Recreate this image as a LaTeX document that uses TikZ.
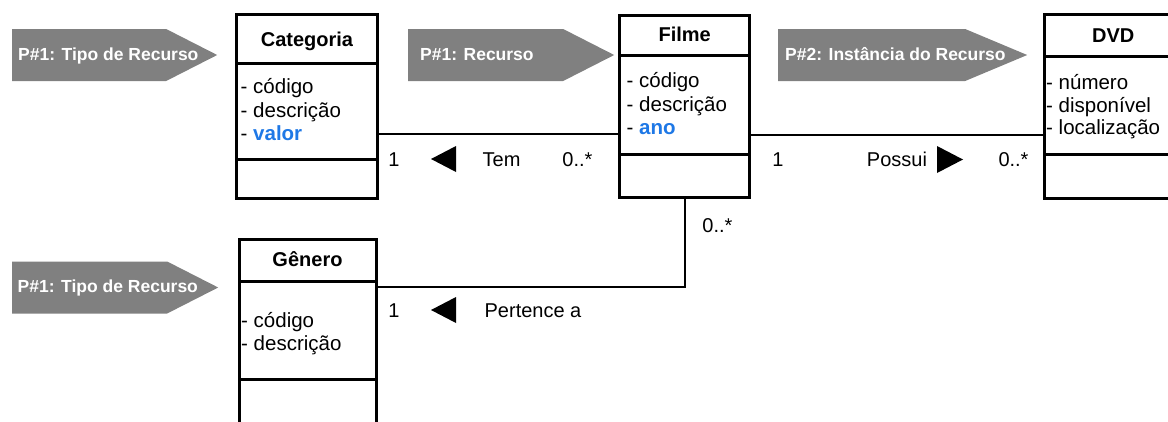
\documentclass[tikz,border=0pt]{standalone}
\usepackage{fontspec}
\setmainfont{Liberation Sans}
\usetikzlibrary{shapes.symbols}

\definecolor{attrblue}{RGB}{30,120,230}
\definecolor{taggray}{RGB}{128,128,128}

\tikzset{
  classbox/.style={draw, line width=3pt, inner sep=0pt},
  divider/.style={line width=3pt},
  assoc/.style={line width=2pt},
  tag/.style={shape=signal, signal to=east, fill=taggray, inner sep=0pt,
    minimum height=52pt, anchor=west},
  tagtext/.style={anchor=base west, inner sep=0pt, text=white,
    font=\fontsize{17.5}{20}\selectfont\bfseries},
  title/.style={anchor=base, inner sep=0pt, font=\fontsize{20}{24}\selectfont\bfseries},
  attr/.style={anchor=base west, inner sep=0pt, font=\fontsize{20.5}{24}\selectfont},
  mult/.style={anchor=base, inner sep=0pt, font=\fontsize{20}{24}\selectfont},
}

\begin{document}
\begin{tikzpicture}[x=1pt, y=-1pt]
  \useasboundingbox (0,0) rectangle (1168,421);
  \clip (0,0) rectangle (1168,421);

  % Tags
  \node[tag, minimum width=205pt, signal pointer angle=54] (tg-cat) at (12,55) {};
  \node[tagtext] (tg-cat-l) at (18,60) {P\#1: Tipo de Recurso};
  \node[tag, minimum width=206pt, signal pointer angle=54] (tg-fil) at (408,55) {};
  \node[tagtext] (tg-fil-l) at (420,60) {P\#1: Recurso};
  \node[tag, minimum width=249pt, signal pointer angle=45.5] (tg-dvd) at (778,55) {};
  \node[tagtext] (tg-dvd-l) at (785,60) {P\#2: Instância do Recurso};
  \node[tag, minimum width=206pt, signal pointer angle=54] (tg-gen) at (12,287.5) {};
  \node[tagtext] (tg-gen-l) at (17.5,292.5) {P\#1: Tipo de Recurso};

  % Categoria
  \node[classbox, minimum width=141pt, minimum height=184pt] (cat) at (307,106.5) {};
  \draw[divider] (cat.west |- 0,63.3) -- (cat.east |- 0,63.3);
  \draw[divider] (cat.west |- 0,159.3) -- (cat.east |- 0,159.3);
  \node[title] (cat-t) at (307,46) {Categoria};
  \node[attr] (cat-a1) at (240.5,93.5) {- código};
  \node[attr] (cat-a2) at (240.5,117) {- descrição};
  \node[attr] (cat-a3) at (240.5,140.5) {- \textcolor{attrblue}{\bfseries valor}};

  % Filme
  \node[classbox, minimum width=130pt, minimum height=182pt] (fil) at (684.7,106.5) {};
  \draw[divider] (fil.west |- 0,55.3) -- (fil.east |- 0,55.3);
  \draw[divider] (fil.west |- 0,154.3) -- (fil.east |- 0,154.3);
  \node[title] (fil-t) at (684.7,41.7) {Filme};
  \node[attr] (fil-a1) at (626.5,87.5) {- código};
  \node[attr] (fil-a2) at (626.5,111) {- descrição};
  \node[attr] (fil-a3) at (626.5,134.5) {- \textcolor{attrblue}{\bfseries ano}};

  % DVD
  \node[classbox, minimum width=140pt, minimum height=184pt] (dvd) at (1114.8,106.7) {};
  \draw[divider] (dvd.west |- 0,56) -- (dvd.east |- 0,56);
  \draw[divider] (dvd.west |- 0,154.3) -- (dvd.east |- 0,154.3);
  \node[title] (dvd-t) at (1113.3,42.7) {DVD};
  \node[attr] (dvd-a1) at (1046,89.5) {- número};
  \node[attr] (dvd-a2) at (1046,112) {- disponível};
  \node[attr] (dvd-a3) at (1046,134.5) {- localização};

  % Genero
  \node[classbox, minimum width=137pt, minimum height=230pt] (gen) at (308.3,354.8) {};
  \draw[divider] (gen.west |- 0,281) -- (gen.east |- 0,281);
  \draw[divider] (gen.west |- 0,379) -- (gen.east |- 0,379);
  \node[title] (gen-t) at (307.5,266.5) {Gênero};
  \node[attr] (gen-a1) at (241,327) {- código};
  \node[attr] (gen-a2) at (241,350.5) {- descrição};

  % Associations
  \coordinate (cf) at (500,134);
  \draw[assoc] (cat.east |- cf) -- (fil.west |- cf);
  \coordinate (fd) at (900,134.5);
  \draw[assoc] (fil.east |- fd) -- (dvd.west |- fd);
  \coordinate (fg) at (500,286.5);
  \draw[assoc] (fil.south) -- (fil.south |- fg) -- (gen.east |- fg);

  % Tem
  \node[mult] (cf-1) at (394,166) {1};
  \fill (431,159) -- (456,146) -- (456,172) -- cycle; % direction
  \node[mult] (cf-n) at (501.5,166) {Tem};
  \node[mult] (cf-m) at (577.5,166) {0..*};

  % Possui
  \node[mult] (fd-1) at (778,166) {1};
  \node[mult] (fd-n) at (897,166) {Possui};
  \fill (963,159.5) -- (937,146) -- (937,173) -- cycle; % direction
  \node[mult] (fd-m) at (1013.5,166) {0..*};

  % Pertence a
  \node[mult] (fg-m) at (717.5,232) {0..*};
  \node[mult] (fg-1) at (394,317) {1};
  \fill (431,310) -- (456,297) -- (456,323) -- cycle; % direction
  \node[mult] (fg-n) at (533,317) {Pertence a};
\end{tikzpicture}
\end{document}
